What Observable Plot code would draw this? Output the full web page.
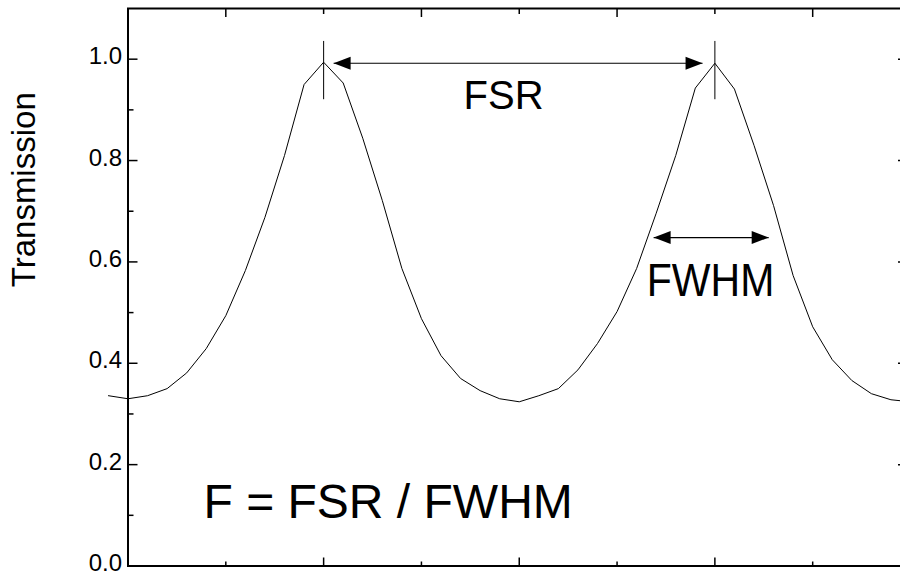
<!DOCTYPE html>
<html>
<head>
<meta charset="utf-8">
<script src="https://cdn.jsdelivr.net/npm/d3@7"></script>
<script src="https://cdn.jsdelivr.net/npm/@observablehq/plot@0.6"></script>
<style>
  html, body { margin: 0; padding: 0; background: white; overflow: hidden; }
</style>
</head>
<body>
<div id="chart"></div>
<script>
// Fabry–Pérot transmission versus phase (in units of π), two orders shown
const phase = [
  -0.1, 0.0, 0.1, 0.2, 0.3, 0.4, 0.5, 0.6, 0.7, 0.8, 0.9,
  1.0, 1.1, 1.2, 1.3, 1.4, 1.5, 1.6, 1.7, 1.8, 1.9,
  2.0, 2.1, 2.2, 2.3, 2.4, 2.5, 2.6, 2.7, 2.8, 2.9,
  3.0, 3.1, 3.2, 3.3, 3.4, 3.5, 3.6, 3.7, 3.8, 3.9, 4.0
];
const transmission = [
  0.336, 0.330, 0.336, 0.350, 0.381, 0.429, 0.494, 0.583, 0.688, 0.810, 0.950,
  0.994, 0.953, 0.844, 0.721, 0.587, 0.488, 0.415, 0.370, 0.346, 0.330,
  0.324, 0.336, 0.350, 0.387, 0.439, 0.502, 0.587, 0.696, 0.810, 0.943,
  0.992, 0.941, 0.830, 0.711, 0.573, 0.472, 0.407, 0.366, 0.340, 0.328, 0.324
];

// transmission peaks and the annotation arrows
const peaks = [1, 3];
const peakMarker = [0.92, 1.035];
const fsrArrow = [1.051, 2.937];
const fsrLevel = 0.992;
const fwhmArrow = [2.687, 3.275];
const fwhmLevel = 0.648;

// axis ticks
const yMajor = [0, 0.2, 0.4, 0.6, 0.8, 1.0];
const yMinor = [0.1, 0.3, 0.5, 0.7, 0.9];
const xMajor = [1, 2, 3];
const xMinor = [0.5, 1.5, 2.5, 3.5];

const curve = phase.map((x, i) => ({x, t: transmission[i]}));

const W = 910, H = 576;
const ML = 127.5, MR = 0, MT = 8, MB = 10.5;
const frameW = W - ML - MR;
const frameH = H - MT - MB;

// filled arrowhead with its tip at the origin, pointing right
const arrowHead = {
  draw(ctx) {
    ctx.moveTo(0, 0);
    ctx.lineTo(-17, -6.5);
    ctx.lineTo(-17, 6.5);
    ctx.closePath();
  }
};

const heads = [
  {x: fsrArrow[0], y: fsrLevel, a: 180},
  {x: fsrArrow[1], y: fsrLevel, a: 0},
  {x: fwhmArrow[0], y: fwhmLevel, a: 180},
  {x: fwhmArrow[1], y: fwhmLevel, a: 0}
];

const font = "'Liberation Sans', Arial, Helvetica, sans-serif";

const svg = Plot.plot({
  width: W,
  height: H,
  marginLeft: ML,
  marginRight: MR,
  marginTop: MT,
  marginBottom: MB,
  x: {domain: [0, 4], axis: null},
  y: {domain: [0, 1.1], axis: null},
  style: {fontFamily: font, background: "white", maxWidth: "none", overflow: "visible", color: "black"},
  marks: [
    // inward ticks on all four sides
    Plot.tickY(yMajor, {y: d => d, insetRight: frameW - 10, strokeWidth: 1.5}),
    Plot.tickY(yMinor, {y: d => d, insetRight: frameW - 6, strokeWidth: 1.5}),
    Plot.tickY(yMajor, {y: d => d, insetLeft: frameW - 12, strokeWidth: 1.5}),
    Plot.tickX(xMajor, {x: d => d, insetTop: frameH - 8, strokeWidth: 1.5}),
    Plot.tickX(xMinor, {x: d => d, insetTop: frameH - 4, strokeWidth: 1.5}),
    Plot.tickX(xMajor, {x: d => d, insetBottom: frameH - 6, strokeWidth: 1.5}),
    Plot.tickX(xMinor, {x: d => d, insetBottom: frameH - 9, strokeWidth: 1.5}),
    Plot.frame({stroke: "black", strokeWidth: 2}),

    // y tick labels and title
    Plot.text(yMajor, {
      y: d => d, frameAnchor: "left", dx: -6, dy: -2.5, textAnchor: "end",
      text: d => d.toFixed(1), fontSize: 24, fill: "black"
    }),
    Plot.text(["Transmission"], {
      frameAnchor: "left", dx: -103.5, rotate: -90, fontSize: 33, fill: "black"
    }),

    // transmission curve
    Plot.line(curve, {x: "x", y: "t", stroke: "black", strokeWidth: 1}),

    // peak markers
    Plot.ruleX(peaks, {x: d => d, y1: peakMarker[0], y2: peakMarker[1], stroke: "black", strokeWidth: 1}),

    // FSR and FWHM arrows
    Plot.link([fsrArrow], {x1: d => d[0], x2: d => d[1], y1: fsrLevel, y2: fsrLevel, stroke: "black", strokeWidth: 1.2}),
    Plot.link([fwhmArrow], {x1: d => d[0], x2: d => d[1], y1: fwhmLevel, y2: fwhmLevel, stroke: "black", strokeWidth: 1.2}),
    Plot.dot(heads, {x: "x", y: "y", rotate: "a", symbol: arrowHead, fill: "black", stroke: "none"}),

    // annotation text
    Plot.text(["FSR"], {x: () => 1.92, y: () => 0.926, fontSize: 40, fill: "black"}),
    Plot.text(["FWHM"], {x: () => 2.978, y: () => 0.563, fontSize: 41, fill: "black"}),
    Plot.text(["F = FSR / FWHM"], {x: () => 0.386, y: () => 0.126, textAnchor: "start", fontSize: 48, fill: "black"})
  ]
});

// the FWHM label is set in a slightly taller face
d3.select(svg).selectAll("text")
  .filter(function () { return this.textContent === "FWHM"; })
  .attr("transform", function () {
    const t = this.getAttribute("transform") || "";
    return t + " scale(1,1.14)";
  });

document.getElementById("chart").appendChild(svg);
</script>
</body>
</html>
